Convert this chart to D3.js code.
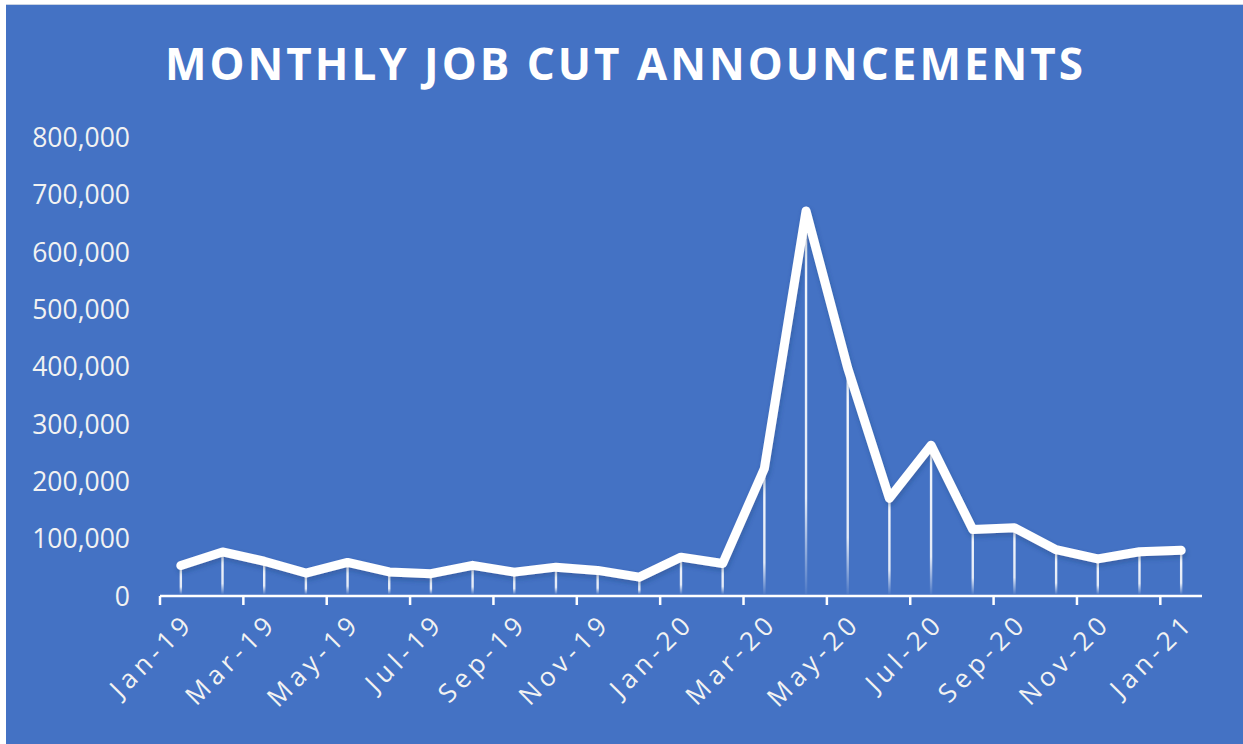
<!DOCTYPE html>
<html>
<head>
<meta charset="utf-8">
<script src="https://cdn.jsdelivr.net/npm/d3@7"></script>
<style>
  html, body { margin: 0; padding: 0; background: #fff; }
  svg { display: block; }
</style>
</head>
<body>
<div id="chart"></div>
<script>
// monthly job cut announcements, Jan-19 .. Jan-21
var months = ["Jan-19","Feb-19","Mar-19","Apr-19","May-19","Jun-19","Jul-19","Aug-19","Sep-19","Oct-19","Nov-19","Dec-19",
              "Jan-20","Feb-20","Mar-20","Apr-20","May-20","Jun-20","Jul-20","Aug-20","Sep-20","Oct-20","Nov-20","Dec-20","Jan-21"];
var jobCuts = [52988, 76835, 60587, 40023, 58577, 41977, 38845, 53480, 41557, 50275, 44569, 32843,
               67735, 56660, 222288, 671129, 397016, 170219, 262649, 115762, 118804, 80666, 64797, 77030, 79552];
var yTicks = [0, 100000, 200000, 300000, 400000, 500000, 600000, 700000, 800000];
var titleText = "MONTHLY JOB CUT ANNOUNCEMENTS";

var width = 1243, height = 744;
var font = "'Open Sans', 'DejaVu Sans', sans-serif";

var svg = d3.select("#chart").append("svg")
    .attr("width", width)
    .attr("height", height);

var defs = svg.append("defs");
var grad = defs.append("linearGradient")
    .attr("id", "dropFade")
    .attr("x1", 0).attr("y1", 0).attr("x2", 0).attr("y2", 1);
grad.append("stop").attr("offset", "0%").attr("stop-color", "#fff").attr("stop-opacity", 0.95);
grad.append("stop").attr("offset", "75%").attr("stop-color", "#fff").attr("stop-opacity", 0.85);
grad.append("stop").attr("offset", "100%").attr("stop-color", "#fff").attr("stop-opacity", 0.05);

var shadow = defs.append("filter").attr("id", "lineShadow")
    .attr("x", "-5%").attr("y", "-5%").attr("width", "110%").attr("height", "120%");
shadow.append("feDropShadow")
    .attr("dx", 1).attr("dy", 3).attr("stdDeviation", 2.5)
    .attr("flood-color", "#1f3b70").attr("flood-opacity", 0.35);

// background
svg.append("rect")
    .attr("x", 0).attr("y", 0)
    .attr("width", width).attr("height", height)
    .attr("fill", "#ffffff");
svg.append("rect")
    .attr("x", 6).attr("y", 4)
    .attr("width", width - 6).attr("height", height - 4)
    .attr("fill", "#4472c4");
svg.append("line")
    .attr("x1", 6).attr("x2", width)
    .attr("y1", 4.5).attr("y2", 4.5)
    .attr("stroke", "#c9d3e3").attr("stroke-width", 1);

// title
svg.append("text")
    .attr("x", 624)
    .attr("y", 80)
    .attr("text-anchor", "middle")
    .attr("fill", "#ffffff")
    .attr("font-family", font)
    .attr("font-weight", 700)
    .attr("font-size", 44)
    .attr("textLength", 918)
    .attr("lengthAdjust", "spacing")
    .text(titleText);

// scales
var x = d3.scaleBand()
    .domain(months)
    .range([160, 1202])
    .paddingInner(0)
    .paddingOuter(0);

var y = d3.scaleLinear()
    .domain([0, 800000])
    .range([596, 137]);

var cx = function(d) { return x(d) + x.bandwidth() / 2; };

// y axis labels (no axis line)
var yAxis = d3.axisLeft(y)
    .tickValues(yTicks)
    .tickSize(0)
    .tickPadding(0)
    .tickFormat(d3.format(","));

var yG = svg.append("g")
    .attr("transform", "translate(130,0)")
    .call(yAxis);
yG.select(".domain").remove();
yG.selectAll("text")
    .attr("fill", "#f2f2f2")
    .attr("font-family", font)
    .attr("font-size", 26.5)
    .attr("dy", "0.35em");

// x axis line and tick marks at every second category boundary
var xG = svg.append("g").attr("class", "x-axis");
xG.append("line")
    .attr("x1", 160).attr("x2", 1202)
    .attr("y1", 596).attr("y2", 596)
    .attr("stroke", "#ffffff").attr("stroke-width", 2.5);

var tickMonths = months.filter(function(d, i) { return i % 2 === 0; });
xG.selectAll(".tick-mark")
    .data(tickMonths)
    .enter()
    .append("line")
    .attr("class", "tick-mark")
    .attr("x1", function(d) { return x(d); })
    .attr("x2", function(d) { return x(d); })
    .attr("y1", 596).attr("y2", 605)
    .attr("stroke", "#ffffff").attr("stroke-width", 2.5);

xG.selectAll(".tick-label")
    .data(tickMonths)
    .enter()
    .append("text")
    .attr("class", "tick-label")
    .attr("transform", function(d) { return "translate(" + (cx(d) + 8) + ",618) rotate(-45)"; })
    .attr("text-anchor", "end")
    .attr("dy", "0.35em")
    .attr("fill", "#f2f2f2")
    .attr("font-family", font)
    .attr("font-size", 26)
    .attr("letter-spacing", 5)
    .text(function(d) { return d; });

// drop lines from each point to the axis
svg.selectAll(".drop")
    .data(months)
    .enter()
    .append("rect")
    .attr("class", "drop")
    .attr("x", function(d) { return cx(d) - 1.2; })
    .attr("width", 2.4)
    .attr("y", function(d, i) { return y(jobCuts[i]); })
    .attr("height", function(d, i) { return 594 - y(jobCuts[i]); })
    .attr("fill", "url(#dropFade)");

// line
var line = d3.line()
    .x(function(d, i) { return cx(months[i]); })
    .y(function(d) { return y(d); });

svg.append("path")
    .datum(jobCuts)
    .attr("d", line)
    .attr("fill", "none")
    .attr("stroke", "#ffffff")
    .attr("stroke-width", 9)
    .attr("stroke-linejoin", "round")
    .attr("stroke-linecap", "round")
    .attr("filter", "url(#lineShadow)");
</script>
</body>
</html>
